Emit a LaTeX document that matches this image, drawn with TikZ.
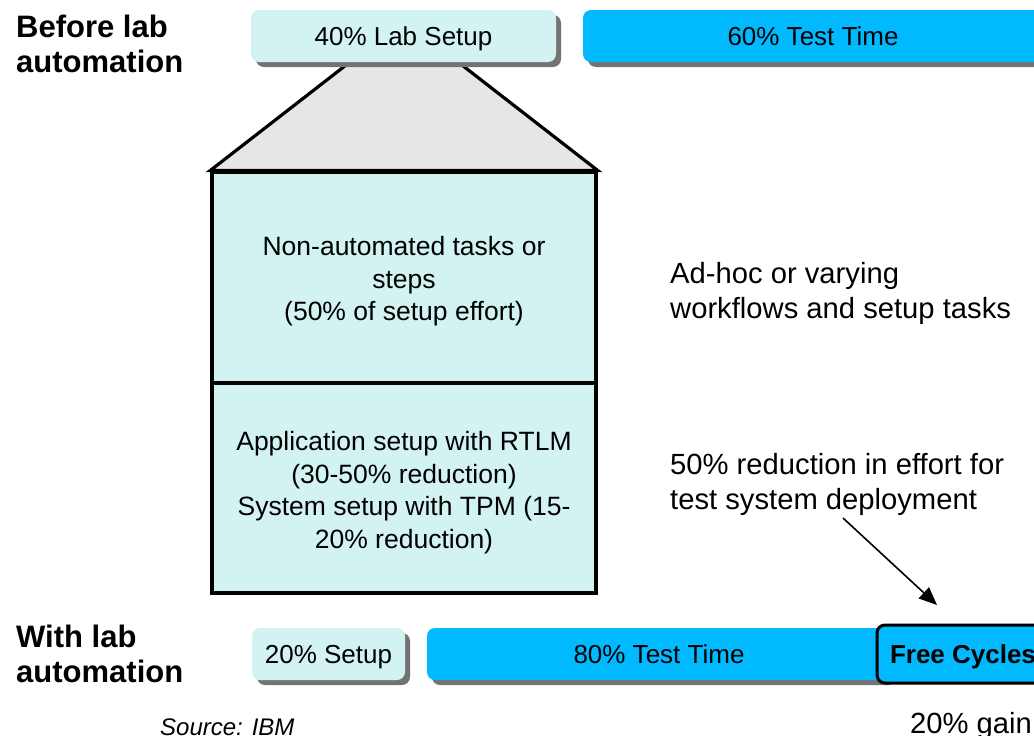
\documentclass[tikz,border=0pt]{standalone}
\usepackage{fontspec}
\setmainfont{Liberation Sans}
\usetikzlibrary{shadows,arrows.meta}
\definecolor{paleaqua}{RGB}{211,243,243}
\definecolor{skyblue}{RGB}{0,185,255}
\definecolor{funnelgray}{RGB}{230,230,230}
\begin{document}
\begin{tikzpicture}[x=1pt,y=-1pt,
  bar/.style={rounded corners=8pt, inner sep=0pt, minimum height=52pt,
    text height=19pt, text depth=0pt,
    font=\fontsize{26}{30}\selectfont,
    drop shadow={shadow xshift=5pt,shadow yshift=-5pt,fill=black!55,opacity=1}},
  setupbar/.style={bar, fill=paleaqua},
  testbar/.style={bar, fill=skyblue},
  stagelabel/.style={anchor=north west, inner sep=0pt, align=left,
    font=\fontsize{31}{35}\selectfont\bfseries},
  stepbox/.style={draw, line width=3.2pt, fill=paleaqua, inner sep=0pt,
    minimum width=384pt},
  steptext/.style={align=center, inner sep=0pt,
    font=\fontsize{26.5}{32.5}\selectfont},
  note/.style={anchor=north west, align=left, inner sep=0pt,
    font=\fontsize{29.2}{35}\selectfont},
  pointer/.style={line width=1.6pt, -{Triangle[length=18pt,width=15pt]}},
]
\useasboundingbox (0,0) rectangle (1034,736);

% stage labels
\node[stagelabel] (before) at (16,15) {Before lab\\automation};
\node[stagelabel] (with) at (16,625) {With lab\\automation};

% breakdown of the setup effort
\node[stepbox, minimum height=211pt] (manual) at (404,277.5) {};
\node[stepbox, minimum height=210pt] (tooled) at (404,488) {};
\node[steptext] (manualtext) at ([yshift=-4pt]manual.center)
  {Non-automated tasks or\\steps\\(50\% of setup effort)};
\node[steptext] (tooledtext) at ([yshift=-4.5pt]tooled.center)
  {Application setup with RTLM\\(30-50\% reduction)\\System setup with TPM (15-\\20\% reduction)};

% funnel from the setup bar to the breakdown
\coordinate (funnelL) at (350,62);
\coordinate (funnelR) at (458,62);
\filldraw[fill=funnelgray, line width=3.2pt, line join=miter]
  (manual.north west) -- (funnelL) -- (funnelR) -- (manual.north east) -- cycle;

% time split before automation
\node[setupbar, minimum width=305pt] (labsetup) at (403.5,36) {40\% Lab Setup};
\node[testbar, minimum width=460pt] (testbefore) at (813,36) {60\% Test Time};

% time split with automation
\node[setupbar, minimum width=153pt] (setupafter) at (328.5,654) {20\% Setup};
\node[testbar, minimum width=464pt] (testafter) at (659,654) {80\% Test Time};
\node[draw, line width=3pt, rounded corners=8pt, fill=skyblue, inner sep=0pt,
  minimum width=172pt, minimum height=58pt, text height=19pt, text depth=0pt,
  font=\fontsize{26}{30}\selectfont\bfseries] (free) at (963,654) {Free Cycles};

% annotations
\node[note] (adhoc) at (670,262) {Ad-hoc or varying\\workflows and setup tasks};
\node[note] (deploy) at (670,453) {50\% reduction in effort for\\test system deployment};
\node[note] (gain) at (910,712) {20\% gain};
\node[anchor=north west, inner sep=0pt, font=\fontsize{24}{28}\selectfont\itshape]
  (source) at (160,719) {Source: IBM};

\coordinate (arrowtail) at (843,518);
\coordinate (arrowtip) at (937,605);
\draw[pointer] (arrowtail) -- (arrowtip);
\end{tikzpicture}
\end{document}
